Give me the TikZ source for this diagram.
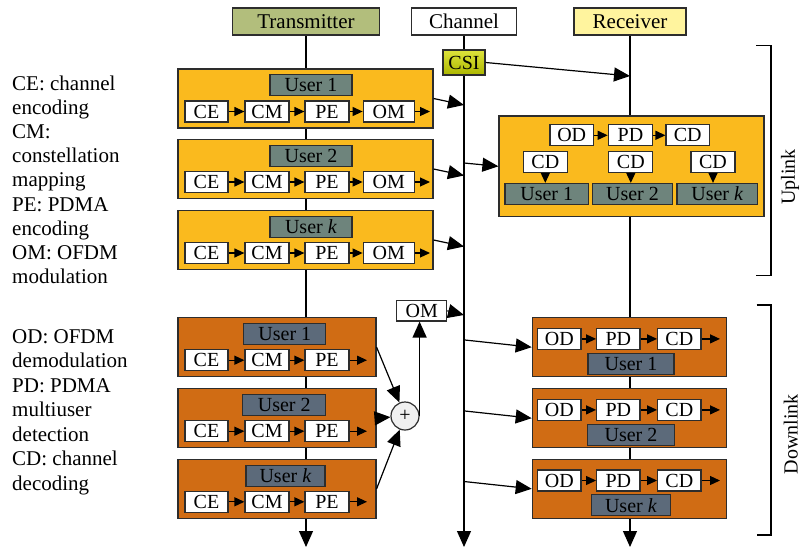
\documentclass[tikz,border=0pt]{standalone}
\usepackage{fontspec}
\setmainfont{Liberation Serif}
\usetikzlibrary{arrows.meta,backgrounds,calc}

\definecolor{txhead}{RGB}{178,190,124}
\definecolor{rxhead}{RGB}{255,244,158}
\definecolor{csitop}{RGB}{222,228,60}
\definecolor{csibot}{RGB}{172,182,0}
\definecolor{uporange}{RGB}{250,186,30}
\definecolor{downorange}{RGB}{208,108,20}
\definecolor{upgray}{RGB}{110,132,124}
\definecolor{downgray}{RGB}{92,106,122}
\definecolor{edge}{RGB}{45,45,45}
\definecolor{sumfill}{RGB}{240,240,240}

\tikzset{
  box/.style={draw=edge, line width=1.2pt, inner sep=0pt, minimum height=21pt,
              font=\fontsize{20}{24}\selectfont},
  blk/.style={box, fill=white, minimum width=44pt},
  hdr/.style={box, minimum height=27pt, font=\fontsize{21}{25}\selectfont},
  upframe/.style={draw=edge, line width=1.2pt, fill=uporange, inner sep=0pt,
                  minimum height=59pt},
  downframe/.style={draw=edge, line width=1.2pt, fill=downorange, inner sep=0pt,
                  minimum height=59pt},
  upuser/.style={box, fill=upgray},
  downuser/.style={box, fill=downgray},
  big/.style={-{Triangle[length=16pt,width=14pt]}, line width=1.2pt, draw=black},
  small/.style={-{Triangle[length=10pt,width=9pt]}, line width=1.2pt, draw=black},
  legend/.style={anchor=base west, inner sep=0pt, font=\fontsize{21}{24}\selectfont},
  sidelabel/.style={rotate=90, inner sep=0pt, font=\fontsize{20}{24}\selectfont},
}

\begin{document}
\begin{tikzpicture}[x=1pt,y=-1pt]
\useasboundingbox (0,0) rectangle (801,552);

% column headers
\node[hdr, fill=txhead, minimum width=147pt] (tx) at (306,21.5) {Transmitter};
\node[hdr, fill=white,  minimum width=105pt] (ch) at (464,21.5) {Channel};
\node[hdr, fill=rxhead, minimum width=112pt] (rx) at (630,21.5) {Receiver};

% channel state information
\node[box, top color=csitop, bottom color=csibot, minimum width=42pt, minimum height=25pt]
  (csi) at (464,62.5) {CSI};
\coordinate (csirx) at (630,76);
\draw[big] (csi.east) -- (csirx);

% uplink transmitters
\foreach \n/\cy/\lab in {1/98.5/User 1, 2/169/User 2, k/240/User \textit{k}}{
  \node[upframe, minimum width=255pt] (ut\n) at (305.5,\cy) {};
  \node[upuser, minimum width=82pt] (utu\n) at (311,{\cy-13.3}) {\lab};
  \node[blk, minimum width=43pt] (utce\n) at (206.5,{\cy+13}) {CE};
  \node[blk] (utcm\n) at (267,{\cy+13}) {CM};
  \node[blk] (utpe\n) at (327,{\cy+13}) {PE};
  \node[blk, minimum width=51pt] (utom\n) at (388.7,{\cy+13}) {OM};
  \coordinate (ute\n) at (430,{\cy+13});
  \draw[small] (utce\n) -- (utcm\n);
  \draw[small] (utcm\n) -- (utpe\n);
  \draw[small] (utpe\n) -- (utom\n);
  \draw[small] (utom\n) -- (ute\n);
  \coordinate (uch\n) at (464,{\cy+6.5});
  \draw[big] (ut\n.east) -- (uch\n);
}

% uplink receiver
\node[upframe, minimum width=265pt, minimum height=100.7pt] (ru) at (631.5,166.3) {};
\node[blk, minimum width=43.3pt] (rod) at (571.7,135.3) {OD};
\node[blk, minimum width=44.4pt] (rpd) at (630.5,135.3) {PD};
\node[blk, minimum width=43.3pt] (rcd) at (687.7,135.3) {CD};
\draw[small] (rod) -- (rpd);
\draw[small] (rpd) -- (rcd);
\node[blk] (rc1) at (545.3,162.2) {CD};
\node[blk] (rc2) at (630.8,162.2) {CD};
\node[blk] (rck) at (713,162.2) {CD};
\node[upuser, minimum width=83.3pt] (ru1) at (546.7,194) {User 1};
\node[upuser, minimum width=80.4pt] (ru2) at (632.5,194) {User 2};
\node[upuser, minimum width=80.7pt] (ruk) at (717.3,194) {User \textit{k}};
\draw[small] (rc1.south) -- (rc1.south |- ru1.north);
\draw[small] (rc2.south) -- (rc2.south |- ru2.north);
\draw[small] (rck.south) -- (rck.south |- ruk.north);
\coordinate (chru) at (464,163);
\draw[big] (chru) -- (ru.west);

% downlink transmitters
\foreach \n/\cy/\lx/\lw/\lab in {1/347.2/284.8/82/User 1, 2/418.2/284.2/83/User 2,
                                  k/488.8/285.5/79/User \textit{k}}{
  \node[downframe, minimum width=198pt] (dt\n) at (277,\cy) {};
  \node[downuser, minimum width=\lw pt] (dtu\n) at (\lx,{\cy-13}) {\lab};
  \node[blk, minimum width=43pt] (dtce\n) at (206.5,{\cy+13}) {CE};
  \node[blk] (dtcm\n) at (267,{\cy+13}) {CM};
  \node[blk] (dtpe\n) at (327,{\cy+13}) {PE};
  \coordinate (dte\n) at (367,{\cy+13});
  \draw[small] (dtce\n) -- (dtcm\n);
  \draw[small] (dtcm\n) -- (dtpe\n);
  \draw[small] (dtpe\n) -- (dte\n);
}

% superposition and OFDM modulation
\node[circle, draw=edge, line width=1.2pt, fill=sumfill, minimum size=28pt, inner sep=0pt,
      font=\fontsize{20}{22}\selectfont] (sum) at (405,416) {+};
\draw[big] (dt1.east) -- (sum);
\draw[big] (dt2.east) -- (sum);
\draw[big] (dtk.east) -- (sum);
\node[blk, minimum width=50pt, minimum height=20.3pt] (om) at (421.7,310.8) {OM};
\draw[big] (sum.east) -- (sum.east |- om.south);
\coordinate (omch) at (464,315);
\draw[big] (om.east) -- (omch);

% downlink receivers
\foreach \n/\cy/\lw/\lab in {1/347.2/86/User 1, 2/418.2/87/User 2, k/488.8/78.3/User \textit{k}}{
  \node[downframe, minimum width=194.4pt] (rd\n) at (629.5,\cy) {};
  \node[blk, minimum width=43.3pt] (rdod\n) at (559.3,{\cy-8.3}) {OD};
  \node[blk, minimum width=43.3pt] (rdpd\n) at (618.3,{\cy-8.3}) {PD};
  \node[blk, minimum width=43.3pt] (rdcd\n) at (679.3,{\cy-8.3}) {CD};
  \coordinate (rde\n) at (720,{\cy-8.3});
  \draw[small] (rdod\n) -- (rdpd\n);
  \draw[small] (rdpd\n) -- (rdcd\n);
  \draw[small] (rdcd\n) -- (rde\n);
  \node[downuser, minimum width=\lw pt] (rdu\n) at (631,{\cy+16.5}) {\lab};
  \coordinate (chd\n) at (464,{\cy-7.3});
  \draw[big] (chd\n) -- (rd\n.west);
}

% time axes behind the blocks
\coordinate (txend) at (306,547);
\coordinate (chend) at (464,547);
\coordinate (rxend) at (630,547);
\begin{scope}[on background layer]
  \draw[big] (tx.south) -- (txend);
  \draw[big] (ch.south) -- (chend);
  \draw[big] (rx.south) -- (rxend);
\end{scope}

% link brackets
\draw[line width=1.2pt] (756,45.7) -- (771,45.7) -- (771,275.7) -- (756,275.7);
\draw[line width=1.2pt] (756.7,305) -- (771,305) -- (771,535) -- (756.7,535);
\node[sidelabel] (uplbl) at (790,177) {Uplink};
\node[sidelabel] (dnlbl) at (790.7,434) {Downlink};

% abbreviations
\foreach \t [count=\i from 0] in {CE: channel, encoding, CM:, constellation, mapping,
                                  PE: PDMA, encoding, OM: OFDM, modulation}{
  \node[legend] (la\i) at (12,{90.5+24.1*\i}) {\t};
}
\foreach \t [count=\i from 0] in {OD: OFDM, demodulation, PD: PDMA, multiuser,
                                  detection, CD: channel, decoding}{
  \node[legend] (lb\i) at (12,{343.3+24.5*\i}) {\t};
}
\end{tikzpicture}
\end{document}
